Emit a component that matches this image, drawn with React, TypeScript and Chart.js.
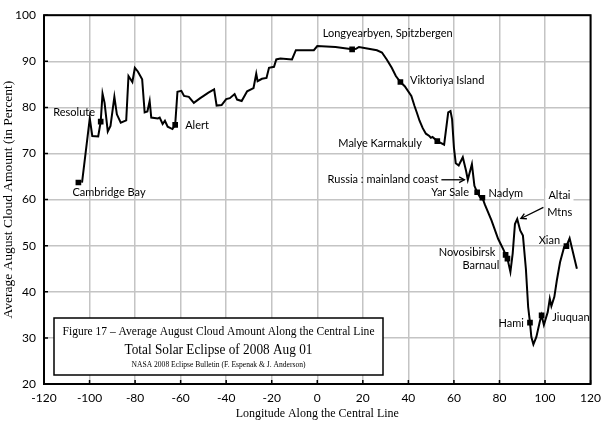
import React, { useEffect, useRef } from "react";
import { Chart, registerables } from "chart.js";

Chart.register(...registerables);

// ---- data ----
const longitudes = [
  -103.3, -99.9, -98.8, -96.2, -95.1, -94.3, -93.4, -92.0, -90.8, -89.1, -88.0, -86.3, -83.9, -82.9,
  -81.2, -80.1, -78.8, -76.9, -75.8, -74.6, -73.6, -72.9, -70.0, -69.2, -67.9, -66.9, -65.7, -63.6,
  -62.4, -61.4, -59.7, -58.5, -56.4, -54.2, -51.4, -49.9, -47.8, -45.3, -44.2, -42.0, -40.0, -38.4,
  -36.3, -35.2, -33.2, -30.8, -28.0, -26.8, -26.2, -24.3, -22.3, -21.2, -19.0, -18.0, -16.2, -11.1,
  -9.4, -1.5, 0.0, 8.0, 15.3, 17.0, 18.3, 21.9, 26.2, 28.4, 30.5, 32.7, 34.5, 36.5, 38.4, 41.3, 42.7,
  43.7, 44.9, 46.3, 47.7, 49.2, 49.9, 50.6, 52.7, 55.7, 57.5, 58.5, 59.2, 60.0, 60.8, 62.1, 63.9,
  65.3, 66.1, 67.9, 69.0, 70.2, 71.4, 72.5, 73.6, 76.5, 79.4, 80.8, 81.9, 82.7, 83.5, 84.8, 85.8,
  86.8, 87.8, 89.1, 90.3, 91.6, 92.6, 93.4, 94.0, 94.9, 96.2, 97.7, 98.5, 99.5, 101.2, 102.1, 102.8,
  104.1, 105.2, 106.6, 108.4, 109.4, 110.8, 114.0,
];
const cloudAmounts = [
  63.7, 77.6, 73.8, 73.7, 76.9, 83.0, 81.0, 74.8, 76.0, 82.3, 78.5, 76.7, 77.2, 86.8,
  85.5, 88.6, 87.8, 86.1, 78.9, 79.1, 81.4, 77.8, 77.6, 77.8, 76.4, 77.1, 75.8, 75.3,
  76.2, 83.4, 83.6, 82.5, 82.3, 81.0, 82.0, 82.5, 83.2, 83.9, 80.4, 80.5, 81.8, 82.0,
  82.9, 81.7, 81.4, 83.5, 84.2, 87.3, 85.7, 86.2, 86.4, 88.6, 88.8, 90.4, 90.6, 90.4,
  92.4, 92.4, 93.3, 93.1, 92.6, 92.7, 93.1, 92.8, 92.4, 91.9, 90.4, 88.6, 86.8, 85.5, 84.6, 82.5, 80.3,
  78.9, 77.1, 75.5, 74.3, 73.8, 73.4, 73.6, 72.7, 71.9, 78.9, 79.2, 77.4, 71.3, 67.9, 67.4, 69.2,
  66.3, 64.3, 67.7, 63.0, 61.6, 60.6, 60.4, 58.9, 55.5, 51.5, 50.1, 49.0, 48.0, 47.2, 44.3, 48.3,
  54.7, 55.8, 53.3, 52.2, 45.0, 36.7, 33.3, 30.2, 28.6, 30.2, 33.5, 34.9, 32.8, 35.6, 38.5, 36.9,
  38.9, 42.5, 46.4, 49.7, 49.9, 51.6, 45.0,
];

const siteLongitudes = [-104.9, -95.1, -62.4, 15.3, 36.5, 52.7, 70.2, 72.5, 82.7, 83.5, 93.4, 98.5, 109.4];
const siteClouds = [63.7, 76.9, 76.2, 92.6, 85.5, 72.7, 61.6, 60.4, 48.0, 47.2, 33.3, 34.9, 49.9];

const labelTexts = [
  "Resolute", "Cambridge Bay", "Alert", "Longyearbyen, Spitzbergen", "Viktoriya Island",
  "Malye Karmakuly", "Russia : mainland coast", "Yar Sale", "Nadym", "Altai", "Mtns", "Xian",
  "Novosibirsk", "Barnaul", "Hami", "Jiuquan",
];
const labelLon = [-97.6, -107.5, -58.0, 2.4, 40.7, 45.9, 53.2, 66.6, 75.2, 101.5, 101.0, 106.6, 78.2, 79.9, 90.7, 103.2];
const labelCloud = [78.8, 61.5, 76.0, 96.1, 85.9, 72.1, 64.3, 61.5, 61.3, 60.9, 57.2, 51.1, 48.5, 45.7, 33.2, 34.5];
const labelAlign = ["right", "left", "left", "left", "left", "right", "right", "right", "left", "left", "left", "right", "right", "right", "right", "left"];
const labelBackground = [false, false, false, false, false, false, false, false, false, true, false, false, false, false, false, false];

// arrows: from (lon, cloud) to (lon, cloud)
const arrowFromLon = [54.5, 99.3];
const arrowFromCloud = [64.3, 58.3];
const arrowToLon = [64.6, 89.4];
const arrowToCloud = [64.3, 55.9];

const titleLines = [
  "Figure 17 \u2013 Average August Cloud Amount Along the Central Line",
  "Total Solar Eclipse of 2008 Aug 01",
  "NASA 2008 Eclipse Bulletin (F. Espenak & J. Anderson)",
];

const xTitle = "Longitude Along the Central Line";
const yTitle = "Average August Cloud Amount (in Percent)";

const LABEL_FONT = "11px Lato, 'DejaVu Sans', sans-serif";
const SERIF = "'Liberation Serif', 'Times New Roman', serif";

const framePlugin = {
  id: "frame",
  beforeDatasetsDraw(chart: any) {
    const { ctx, chartArea: a, scales } = chart;
    ctx.save();
    ctx.strokeStyle = "#000";
    ctx.lineWidth = 1.5;
    ctx.beginPath();
    scales.x.ticks.forEach((t: any) => {
      const px = scales.x.getPixelForValue(t.value);
      ctx.moveTo(px, a.bottom);
      ctx.lineTo(px, a.bottom - 4);
    });
    scales.y.ticks.forEach((t: any) => {
      const py = scales.y.getPixelForValue(t.value);
      ctx.moveTo(a.left, py);
      ctx.lineTo(a.left + 4, py);
    });
    ctx.stroke();
    ctx.lineWidth = 2;
    ctx.strokeRect(a.left, a.top, a.right - a.left, a.bottom - a.top);
    ctx.restore();
  },
};

function arrow(ctx: CanvasRenderingContext2D, x1: number, y1: number, x2: number, y2: number) {
  ctx.beginPath();
  ctx.moveTo(x1, y1);
  ctx.lineTo(x2, y2);
  ctx.stroke();
  const ang = Math.atan2(y2 - y1, x2 - x1);
  const len = 6;
  ctx.beginPath();
  ctx.moveTo(x2 - len * Math.cos(ang - 0.5), y2 - len * Math.sin(ang - 0.5));
  ctx.lineTo(x2, y2);
  ctx.lineTo(x2 - len * Math.cos(ang + 0.5), y2 - len * Math.sin(ang + 0.5));
  ctx.stroke();
}

const annotationPlugin = {
  id: "annotations",
  afterDatasetsDraw(chart: any) {
    const { ctx, chartArea: a, scales } = chart;
    const xs = scales.x;
    const ys = scales.y;
    ctx.save();
    ctx.font = LABEL_FONT;
    ctx.textBaseline = "middle";
    labelTexts.forEach((txt, i) => {
      const px = xs.getPixelForValue(labelLon[i]);
      const py = ys.getPixelForValue(labelCloud[i]);
      const w = ctx.measureText(txt).width;
      const left = labelAlign[i] === "right" ? px - w : px;
      if (labelBackground[i]) {
        ctx.fillStyle = "#fff";
        ctx.fillRect(left - 3, py - 7, w + 6, 14);
      }
      ctx.fillStyle = "#000";
      ctx.textAlign = "left";
      ctx.fillText(txt, left, py);
    });
    ctx.strokeStyle = "#000";
    ctx.lineWidth = 1.3;
    arrowFromLon.forEach((_, i) => {
      arrow(
        ctx,
        xs.getPixelForValue(arrowFromLon[i]),
        ys.getPixelForValue(arrowFromCloud[i]),
        xs.getPixelForValue(arrowToLon[i]),
        ys.getPixelForValue(arrowToCloud[i])
      );
    });

    // title box
    const bx = a.left + 10;
    const by = a.bottom - 66;
    const bw = 329;
    const bh = 57;
    ctx.fillStyle = "#fff";
    ctx.fillRect(bx, by, bw, bh);
    ctx.lineWidth = 1.5;
    ctx.strokeRect(bx, by, bw, bh);
    ctx.fillStyle = "#000";
    ctx.textAlign = "center";
    const cx = bx + bw / 2;
    ctx.font = "12.5px " + SERIF;
    ctx.fillText(titleLines[0], cx, by + 14, 312);
    ctx.font = "15px " + SERIF;
    ctx.fillText(titleLines[1], cx, by + 32, 188);
    ctx.font = "8px " + SERIF;
    ctx.fillText(titleLines[2], cx, by + 47, 174);
    ctx.restore();
  },
};

export default function App() {
  const ref = useRef<HTMLCanvasElement | null>(null);
  useEffect(() => {
    if (!ref.current) return;
    const chart = new Chart(ref.current, {
      type: "line",
      data: {
        datasets: [
          {
            data: longitudes.map((x, i) => ({ x, y: cloudAmounts[i] })),
            borderColor: "#000",
            borderWidth: 2,
            pointRadius: 0,
            tension: 0,
            fill: false,
          },
          {
            data: siteLongitudes.map((x, i) => ({ x, y: siteClouds[i] })),
            showLine: false,
            pointStyle: "rect",
            pointRadius: 4,
            backgroundColor: "#000",
            borderColor: "#000",
            borderWidth: 0,
          },
        ],
      },
      options: {
        responsive: false,
        animation: false,
        layout: { padding: { top: 14, right: 7, left: 0, bottom: 0 } },
        plugins: { legend: { display: false }, tooltip: { enabled: false } },
        scales: {
          x: {
            type: "linear",
            min: -120,
            max: 120,
            afterFit: (s: any) => {
              s.height = 37;
            },
            ticks: {
              stepSize: 20,
              color: "#000",
              padding: 7,
              maxRotation: 0,
              font: { family: "Lato, 'DejaVu Sans', sans-serif", size: 12 },
            },
            grid: { color: "#c4c4c4", lineWidth: 1.5, drawTicks: false },
            border: { display: false },
            title: {
              display: true,
              text: xTitle,
              color: "#000",
              padding: { top: 0, bottom: 0 },
              font: { family: SERIF, size: 12 },
            },
          },
          y: {
            type: "linear",
            min: 20,
            max: 100,
            afterFit: (s: any) => {
              s.width = 44;
            },
            ticks: {
              stepSize: 10,
              color: "#000",
              padding: 8,
              font: { family: "Lato, 'DejaVu Sans', sans-serif", size: 12 },
            },
            grid: { color: "#c4c4c4", lineWidth: 1.5, drawTicks: false },
            border: { display: false },
            title: {
              display: true,
              text: yTitle,
              color: "#000",
              padding: { top: 0, bottom: 0 },
              font: { family: SERIF, size: 13.5 },
            },
          },
        },
      },
      plugins: [framePlugin, annotationPlugin],
    } as any);
    return () => chart.destroy();
  }, []);
  return (
    <div style={{ position: "absolute", left: 0, top: 0, width: 608, height: 421, background: "#fff" }}>
      <canvas ref={ref} width={608} height={421} />
    </div>
  );
}
